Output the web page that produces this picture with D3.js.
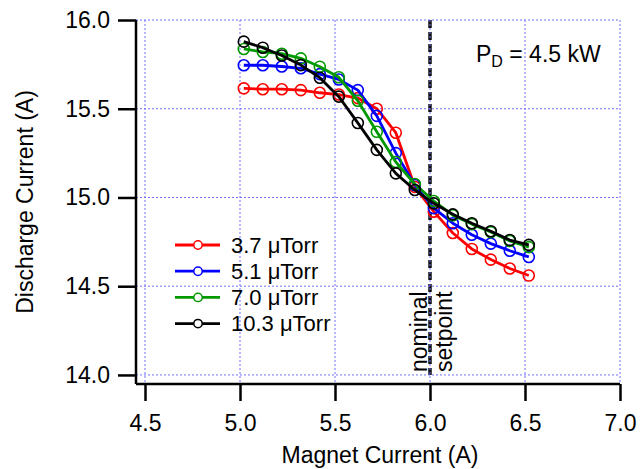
<!DOCTYPE html>
<html>
<head>
<meta charset="utf-8">
<script src="https://cdn.jsdelivr.net/npm/d3@7"></script>
<style>
  html, body { margin: 0; padding: 0; background: #fff; }
  svg text { font-family: "Liberation Sans", Arial, sans-serif; fill: #000; }
</style>
</head>
<body>
<svg id="chart" width="640" height="469"></svg>
<script>
// Magnet current sweep (A)
const magnetCurrent = [5.02, 5.12, 5.22, 5.32, 5.42, 5.52, 5.62, 5.72, 5.82, 5.92, 6.02, 6.12, 6.22, 6.32, 6.42, 6.52];

// Discharge current (A) at each background pressure
const p37  = [15.615, 15.61, 15.61, 15.605, 15.59, 15.58, 15.56, 15.50, 15.365, 15.06, 14.92, 14.80, 14.71, 14.65, 14.60, 14.56];
const p51  = [15.745, 15.745, 15.738, 15.728, 15.695, 15.665, 15.605, 15.46, 15.25, 15.07, 14.94, 14.855, 14.79, 14.74, 14.70, 14.665];
const p70  = [15.837, 15.82, 15.81, 15.784, 15.737, 15.677, 15.545, 15.37, 15.20, 15.076, 14.98, 14.90, 14.85, 14.805, 14.755, 14.72];
const p103 = [15.878, 15.844, 15.80, 15.746, 15.675, 15.568, 15.42, 15.268, 15.136, 15.042, 14.967, 14.905, 14.855, 14.81, 14.76, 14.733];

const seriesNames  = ["3.7 μTorr", "5.1 μTorr", "7.0 μTorr", "10.3 μTorr"];
const seriesColors = ["#ff0000", "#0000ff", "#009a00", "#000000"];
const seriesValues = [p37, p51, p70, p103];

const xTicks = [4.5, 5.0, 5.5, 6.0, 6.5, 7.0];
const yTicks = [14.0, 14.5, 15.0, 15.5, 16.0];
const setpoint = 6.0;

const svg = d3.select("#chart");
const plotL = 136, plotR = 620, plotT = 20, plotB = 384;

const x = d3.scaleLinear().domain([4.4526, 7.0]).range([plotL, plotR]);
const y = d3.scaleLinear().domain([13.949, 16.0]).range([plotB, plotT]);

// nominal setpoint marker
svg.append("line")
  .attr("x1", x(setpoint)).attr("x2", x(setpoint))
  .attr("y1", plotT).attr("y2", y(14.0))
  .attr("stroke", "#111").attr("stroke-width", 3.5)
  .attr("stroke-dasharray", "8,4");

// dotted grid
const grid = svg.append("g").attr("stroke", "#7070ff").attr("stroke-width", 1)
  .attr("stroke-dasharray", "2,2");
grid.selectAll("line.v").data(xTicks).join("line")
  .attr("class", "v")
  .attr("x1", d => x(d)).attr("x2", d => x(d))
  .attr("y1", plotT).attr("y2", plotB);
grid.selectAll("line.h").data(yTicks).join("line")
  .attr("class", "h")
  .attr("x1", plotL).attr("x2", plotR)
  .attr("y1", d => y(d)).attr("y2", d => y(d));

// axes
const xAxis = d3.axisBottom(x).tickValues(xTicks).tickFormat(d3.format(".1f"))
  .tickSizeInner(17).tickSizeOuter(0).tickPadding(14);
const yAxis = d3.axisLeft(y).tickValues(yTicks).tickFormat(d3.format(".1f"))
  .tickSizeInner(18).tickSizeOuter(0).tickPadding(8);

const gx = svg.append("g").attr("transform", `translate(0,${plotB})`).call(xAxis);
const gy = svg.append("g").attr("transform", `translate(${plotL},0)`).call(yAxis);
[gx, gy].forEach(g => {
  g.select(".domain").attr("stroke", "#000").attr("stroke-width", 2.5);
  g.selectAll(".tick line").attr("stroke", "#000").attr("stroke-width", 2.5);
  g.selectAll(".tick text").attr("font-size", 23).attr("font-family", "Liberation Sans, Arial, sans-serif").attr("fill", "#000");
});
gx.select(".domain").attr("d", `M${plotL},0H${plotR}`);
gy.select(".domain").attr("d", `M0,${plotT}V${plotB}`);

// axis titles
svg.append("text")
  .attr("x", (plotL + plotR) / 2 + 2).attr("y", 463)
  .attr("text-anchor", "middle").attr("font-size", 23)
  .text("Magnet Current (A)");
svg.append("text")
  .attr("transform", `translate(33,${(plotT + plotB) / 2}) rotate(-90)`)
  .attr("text-anchor", "middle").attr("font-size", 23)
  .text("Discharge Current (A)");

// series
const line = d3.line().x((d, i) => x(magnetCurrent[i])).y(d => y(d));
seriesValues.forEach((vals, k) => {
  const g = svg.append("g");
  g.append("path").datum(vals)
    .attr("d", line).attr("fill", "none")
    .attr("stroke", seriesColors[k]).attr("stroke-width", 2.8)
    .attr("stroke-linejoin", "round");
  g.selectAll("circle").data(vals).join("circle")
    .attr("cx", (d, i) => x(magnetCurrent[i])).attr("cy", d => y(d))
    .attr("r", 5.5).attr("fill", "none")
    .attr("stroke", seriesColors[k]).attr("stroke-width", 1.6);
});

// legend
const legend = svg.append("g");
seriesNames.forEach((name, k) => {
  const ly = 245 + k * 26.2;
  legend.append("line").attr("x1", 175).attr("x2", 220).attr("y1", ly).attr("y2", ly)
    .attr("stroke", seriesColors[k]).attr("stroke-width", 2.8);
  legend.append("circle").attr("cx", 198).attr("cy", ly).attr("r", 4.2)
    .attr("fill", "#fff").attr("stroke", seriesColors[k]).attr("stroke-width", 1.5);
  legend.append("text").attr("x", 231).attr("y", ly).attr("dy", "0.35em")
    .attr("font-size", 22).text(name);
});

// power annotation
const pd = svg.append("text").attr("x", 476).attr("y", 62).attr("font-size", 23);
pd.append("tspan").text("P");
pd.append("tspan").attr("font-size", 16).attr("dy", 5).text("D");
pd.append("tspan").attr("dy", -5).text(" = 4.5 kW");

// setpoint label
const sp = svg.append("text")
  .attr("transform", `translate(427,372) rotate(-90)`)
  .attr("font-size", 23);
sp.append("tspan").attr("x", 0).attr("y", 0).text("nominal");
sp.append("tspan").attr("x", 0).attr("y", 25).text("setpoint");
</script>
</body>
</html>
